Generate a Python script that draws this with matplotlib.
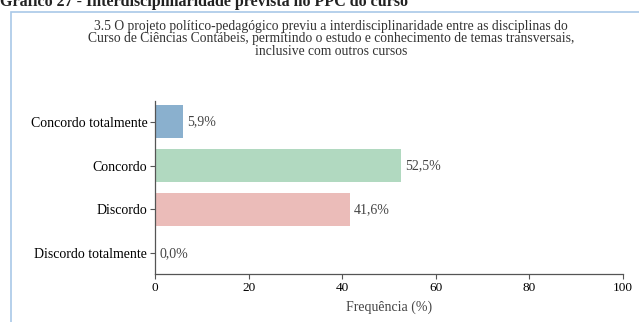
import matplotlib.pyplot as plt
from matplotlib.patches import Rectangle

plt.rcParams['font.family'] = ['Liberation Serif', 'DejaVu Serif']

# Respostas da questão 3.5
categorias = ['Concordo totalmente', 'Concordo', 'Discordo', 'Discordo totalmente']
frequencias = [5.9, 52.5, 41.6, 0.0]
cores = ['#8AB0CE', '#B1D9C0', '#EBBCB9', '#D9D9D9']
xticks = [0, 20, 40, 60, 80, 100]

titulo = ('3.5 O projeto político-pedagógico previu a interdisciplinaridade entre as disciplinas do\n'
          'Curso de Ciências Contábeis, permitindo o estudo e conhecimento de temas transversais,\n'
          'inclusive com outros cursos')
legenda_grafico = 'Gráfico 27 - Interdisciplinaridade prevista no PPC do curso'

fig = plt.figure(figsize=(6.39, 3.22), dpi=100)

# moldura azul clara em volta do gráfico
fig.patches.append(Rectangle((11 / 639, -0.2), 1.2, 1 - 12 / 322 + 0.2,
                             transform=fig.transFigure, fill=False,
                             edgecolor='#A9C8E8', linewidth=1.2))

fig.text(0.0, 1.0 + 6 / 322, legenda_grafico, ha='left', va='top',
         fontsize=11.5, fontweight='bold', color='#222222')
fig.text(331 / 639, 1 - 20 / 322, titulo, ha='center', va='top',
         fontsize=9.8, linespacing=0.93, color='#333333')

ax = fig.add_axes([155 / 639, 1 - 274 / 322, 468 / 639, 173 / 322])
pos = range(len(categorias))
ax.barh(pos, frequencias, height=0.75, color=cores)

for i, v in enumerate(frequencias):
    ax.text(v + 0.9, i, f'{v:.1f}%'.replace('.', ','), va='center', ha='left',
            fontsize=10, color='#444444')

ax.set_xlim(0, 100)
ax.set_ylim(3.47, -0.47)
ax.set_yticks(list(pos))
ax.set_yticklabels(categorias, fontsize=10)
ax.set_xticks(xticks)
ax.set_xticklabels([str(t) for t in xticks], fontsize=9.5)
ax.set_xlabel('Frequência (%)', fontsize=10, color='#444444', labelpad=5)

for s in ['top', 'right']:
    ax.spines[s].set_visible(False)
for s in ['left', 'bottom']:
    ax.spines[s].set_color('#555555')
    ax.spines[s].set_linewidth(0.9)
ax.tick_params(axis='both', length=3.5, width=0.8, color='#555555', pad=2)

fig.savefig('out.png', dpi=100)
